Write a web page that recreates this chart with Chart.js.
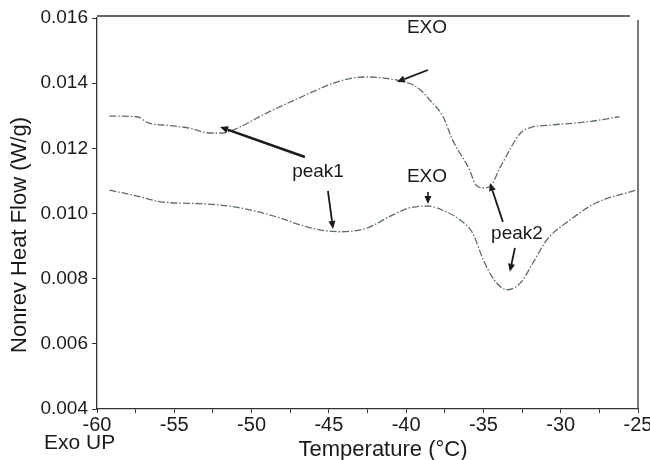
<!DOCTYPE html>
<html>
<head>
<meta charset="utf-8">
<script src="https://cdn.jsdelivr.net/npm/chart.js@4"></script>
<style>
html,body{margin:0;padding:0;background:#fff;}
#wrap{width:650px;height:460px;position:relative;}
</style>
</head>
<body>
<div id="wrap"><canvas id="c" width="650" height="460"></canvas></div>
<script>
// Upper curve
const temps1 = [-59.2,-57.4,-56.7,-55.3,-54.0,-52.7,-51.9,-51.2,-49.0,-46.9,-44.7,-43.4,-42.5,-40.4,-39.3,-38.5,-37.6,-37.0,-35.9,-35.5,-35.0,-34.6,-33.9,-32.6,-32.0,-30.5,-28.3,-26.2];
const flow1  = [0.01299,0.01297,0.01278,0.01270,0.01262,0.01247,0.01247,0.01256,0.01309,0.01355,0.01400,0.01416,0.01419,0.01407,0.01388,0.01350,0.01296,0.01226,0.01134,0.01088,0.01079,0.01082,0.01143,0.01247,0.01263,0.01272,0.01281,0.01297];
// Lower curve
const temps2 = [-59.2,-57.2,-55.9,-53.3,-52.0,-50.1,-48.2,-46.9,-45.6,-44.3,-42.5,-41.1,-39.8,-38.6,-37.4,-36.5,-35.7,-35.0,-34.3,-33.5,-32.6,-31.8,-30.9,-29.4,-27.7,-25.1];
const flow2  = [0.01072,0.01051,0.01036,0.01030,0.01026,0.01011,0.00987,0.00966,0.00950,0.00944,0.00956,0.00990,0.01017,0.01023,0.01005,0.00980,0.00940,0.00857,0.00796,0.00766,0.00787,0.00848,0.00919,0.00980,0.01033,0.01072];
// Axis ticks
const xTicks = {min:-60, max:-25, step:2.5, labelEvery:5};
const yTicks = {min:0.004, max:0.016, step:0.002};
// Annotations (data units)
const noteLabels = [
  {text:'EXO',   x:-38.65, y:0.01569},
  {text:'peak1', x:-45.70, y:0.01128},
  {text:'EXO',   x:-38.65, y:0.01112},
  {text:'peak2', x:-32.83, y:0.00937}
];
const noteArrows = [
  {x1:-46.55, y1:0.011736, x2:-52.04, y2:0.012656, w:2.6},
  {x1:-45.06, y1:0.010693, x2:-44.73, y2:0.009528, w:1.8},
  {x1:-38.59, y1:0.014405, x2:-40.60, y2:0.014037, w:1.8},
  {x1:-38.59, y1:0.010663, x2:-38.59, y2:0.010294, w:1.6},
  {x1:-33.74, y1:0.009742, x2:-34.58, y2:0.010939, w:1.8},
  {x1:-32.96, y1:0.008945, x2:-33.29, y2:0.008209, w:1.8}
];

const FONT = '"Liberation Sans", Arial, Helvetica, sans-serif';
const INK = '#1a1a1a';
const AX = '#333';
const LINE = '#5d6f60';

const toXY = (a,b) => a.map((v,i)=>({x:v, y:b[i]}));

const extras = {
  id:'extras',
  afterDraw(chart){
    const ctx = chart.ctx, xs = chart.scales.x, ys = chart.scales.y, ca = chart.chartArea;
    ctx.save();
    // top and right frame
    ctx.strokeStyle = AX; ctx.lineWidth = 1.3;
    ctx.beginPath();
    ctx.moveTo(ca.left, ca.top-2); ctx.lineTo(ca.right-8, ca.top-2);
    ctx.moveTo(ca.right, ca.top+2); ctx.lineTo(ca.right, ca.bottom);
    ctx.stroke();
    // arrows
    ctx.fillStyle = INK; ctx.strokeStyle = INK;
    noteArrows.forEach(a=>{
      const x1=xs.getPixelForValue(a.x1), y1=ys.getPixelForValue(a.y1);
      const x2=xs.getPixelForValue(a.x2), y2=ys.getPixelForValue(a.y2);
      const ang = Math.atan2(y2-y1, x2-x1);
      const hl = 8, hw = 3.5;
      const bx = x2 - hl*Math.cos(ang), by = y2 - hl*Math.sin(ang);
      ctx.lineWidth = a.w;
      ctx.beginPath(); ctx.moveTo(x1,y1); ctx.lineTo(bx,by); ctx.stroke();
      ctx.beginPath();
      ctx.moveTo(x2,y2);
      ctx.lineTo(bx + hw*Math.sin(ang), by - hw*Math.cos(ang));
      ctx.lineTo(bx - hw*Math.sin(ang), by + hw*Math.cos(ang));
      ctx.closePath(); ctx.fill();
    });
    // labels
    ctx.font = '19px ' + FONT;
    ctx.textAlign = 'center'; ctx.textBaseline = 'middle';
    noteLabels.forEach(l=>{
      ctx.fillText(l.text, xs.getPixelForValue(l.x), ys.getPixelForValue(l.y));
    });
    // axis titles
    ctx.font = '22px ' + FONT;
    ctx.fillText('Temperature (°C)', 383, 450);
    ctx.save();
    ctx.translate(20, 235); ctx.rotate(-Math.PI/2);
    ctx.fillText('Nonrev Heat Flow (W/g)', 0, 0);
    ctx.restore();
    ctx.font = '21px ' + FONT;
    ctx.textAlign = 'left';
    ctx.fillText('Exo UP', 44, 443);
    ctx.restore();
  }
};

new Chart(document.getElementById('c'), {
  type:'line',
  data:{
    datasets:[
      {data:toXY(temps1, flow1), borderColor:LINE, borderWidth:1.3, borderDash:[7,2,1.5,2], pointRadius:0, cubicInterpolationMode:'monotone', fill:false},
      {data:toXY(temps2, flow2), borderColor:LINE, borderWidth:1.3, borderDash:[7,2,1.5,2], pointRadius:0, cubicInterpolationMode:'monotone', fill:false}
    ]
  },
  options:{
    responsive:false, animation:false,
    layout:{padding:{top:18, right:12, left:0, bottom:0}},
    plugins:{legend:{display:false}, tooltip:{enabled:false}},
    scales:{
      x:{
        type:'linear', min:xTicks.min, max:xTicks.max,
        afterFit(s){ s.height = 51; s.paddingLeft = 0; s.paddingRight = 0; },
        border:{color:AX, width:1.3},
        grid:{display:true, drawOnChartArea:false, tickLength:4, color:AX, lineWidth:1},
        ticks:{stepSize:xTicks.step, autoSkip:false, maxRotation:0, padding:0, color:INK, font:{family:FONT, size:20},
          callback:(v)=> (Math.abs(v % xTicks.labelEvery) < 1e-9 ? String(v) : '')}
      },
      y:{
        type:'linear', min:yTicks.min, max:yTicks.max,
        afterFit(s){ s.width = 97; },
        border:{color:AX, width:1.3},
        grid:{display:true, drawOnChartArea:false, tickLength:5, color:AX, lineWidth:1},
        ticks:{stepSize:yTicks.step, padding:4, color:INK, font:{family:FONT, size:19},
          callback:(v)=> v.toFixed(3)}
      }
    }
  },
  plugins:[extras]
});
</script>
</body>
</html>
